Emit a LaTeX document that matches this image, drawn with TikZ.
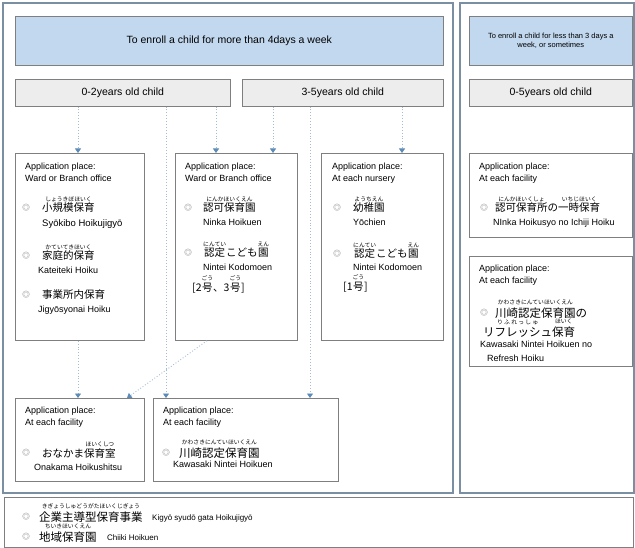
\documentclass[tikz,border=0pt]{standalone}
\usepackage{fontspec}
\setmainfont{Liberation Sans}
\newfontfamily\jp{Noto Sans CJK JP}
\usetikzlibrary{arrows.meta}
\definecolor{frameC}{HTML}{7B8FA2}
\definecolor{hdrC}{HTML}{C2D8EF}
\definecolor{ageC}{HTML}{EDEDED}
\definecolor{boxC}{HTML}{7F7F7F}
\definecolor{flowC}{HTML}{A3BCD4}
\definecolor{tipC}{HTML}{5B8BB6}
% furigana over a word
\newcommand{\furi}[2]{\begin{tabular}[b]{@{}c@{}}{\fontsize{5.8}{6}\selectfont #2}\\[-1.5pt]#1\end{tabular}}
\tikzset{
  frame/.style={draw=frameC,line width=1.6pt},
  hdr/.style={draw=boxC,fill=hdrC,line width=.6pt,anchor=north west,inner sep=0pt,
    align=center,font=\fontsize{10.5}{12}\selectfont},
  agebox/.style={draw=boxC,fill=ageC,line width=.6pt,anchor=north west,inner sep=0pt,
    minimum height=27pt,font=\fontsize{10.5}{12}\selectfont},
  placebox/.style={draw=boxC,fill=white,line width=.7pt,anchor=north west,inner sep=0pt},
  flow/.style={draw=flowC,dotted,line width=.9pt,
    -{Triangle[length=4.5pt,width=6pt,color=tipC]}},
  lbl/.style={anchor=base west,inner sep=0pt,font=\fontsize{9}{11}\selectfont},
  jpa/.style={anchor=base west,inner sep=0pt,font=\jp\fontsize{10.5}{12}\selectfont},
  jpb/.style={anchor=base west,inner sep=0pt,font=\jp\fontsize{11.5}{13}\selectfont},
  dot/.style={inner sep=0pt,text=black!60,font=\jp\fontsize{7.5}{8}\selectfont},
}
\begin{document}
\begin{tikzpicture}[x=1pt,y=-1pt]
\useasboundingbox (0,0) rectangle (635,548);
% frames
\draw[frame] (3,3) rectangle (453,493);
\draw[frame] (460,3) rectangle (634,493);
\draw[draw=boxC,line width=.7pt] (4,497) rectangle (633,547);

% headers
\node[hdr,minimum width=428pt,minimum height=49pt] (hdrL) at (15,16)
  {To enroll a child for more than 4days a week};
\node[hdr,minimum width=163pt,minimum height=49pt,font=\fontsize{7.5}{9.5}\selectfont] (hdrR) at (469,16)
  {To enroll a child for less than 3 days a\\week, or sometimes};
\node[agebox,minimum width=215pt] (g02) at (15,79) {0-2years old child};
\node[agebox,minimum width=201pt] (g35) at (242,79) {3-5years old child};
\node[agebox,minimum width=163pt] (g05) at (469,79) {0-5years old child};

% application boxes
\node[placebox,minimum width=129pt,minimum height=187pt] (boxA) at (15,153) {};
\node[placebox,minimum width=122pt,minimum height=187pt] (boxB) at (175,153) {};
\node[placebox,minimum width=122pt,minimum height=187pt] (boxC) at (321,153) {};
\node[placebox,minimum width=163pt,minimum height=84pt] (boxR1) at (469,153) {};
\node[placebox,minimum width=163pt,minimum height=110pt] (boxR2) at (469,256) {};
\node[placebox,minimum width=129pt,minimum height=83pt] (boxD) at (15,398) {};
\node[placebox,minimum width=185pt,minimum height=83pt] (boxE) at (153,398) {};

% connectors
\draw[flow] (g02.south -| 78,0) -- (boxA.north -| 78,0);
\draw[flow] (g02.south -| 166,0) -- (boxE.north -| 166,0);
\draw[flow] (g02.south -| 216,0) -- (boxB.north -| 216,0);
\draw[flow] (g35.south -| 273,0) -- (boxB.north -| 273,0);
\draw[flow] (g35.south -| 310,0) -- (boxE.north -| 310,0);
\draw[flow] (g35.south -| 402,0) -- (boxC.north -| 402,0);
\draw[flow] (boxA.south -| 78,0) -- (boxD.north -| 78,0);
\draw[flow] (boxB.south -| 207,0) -- (boxD.north -| 127,0);

% box A
\node[lbl] (apA) at (25,169.5) {Application place:};
\node[lbl] (wbA) at (25,181.5) {Ward or Branch office};
\node[dot] (bA1) at (26,208) {◎};
\node[jpa] (kA1) at (42,212) {\furi{小規模保育}{しょうきぼほいく}};
\node[lbl,font=\fontsize{9.5}{11}\selectfont] (rA1) at (42,226.5) {Syōkibo Hoikujigyō};
\node[dot] (bA2) at (26,256) {◎};
\node[jpa] (kA2) at (42,260) {\furi{家庭的保育}{かていてきほいく}};
\node[lbl] (rA2) at (38,273.5) {Kateiteki Hoiku};
\node[dot] (bA3) at (26,295) {◎};
\node[jpa] (kA3) at (42,299) {事業所内保育};
\node[lbl] (rA3) at (38,312.5) {Jigyōsyonai Hoiku};

% box B
\node[lbl] (apB) at (185,169.5) {Application place:};
\node[lbl] (wbB) at (185,181.5) {Ward or Branch office};
\node[dot] (bB1) at (188,208) {◎};
\node[jpa] (kB1) at (203,212) {\furi{認可保育園}{にんかほいくえん}};
\node[lbl] (rB1) at (203,225.5) {Ninka Hoikuen};
\node[dot] (bB2) at (188,253) {◎};
\node[jpa] (kB2) at (203,257) {\furi{認定}{にんてい}こども\furi{園}{えん}};
\node[lbl] (rB2) at (203,270.5) {Nintei Kodomoen};
\node[jpa] (nB2) at (192,291) {[2\furi{号}{ごう}、3\furi{号}{ごう}]};

% box C
\node[lbl] (apC) at (332,169.5) {Application place:};
\node[lbl] (wbC) at (332,181.5) {At each nursery};
\node[dot] (bC1) at (337,208) {◎};
\node[jpa] (kC1) at (353,212) {\furi{幼稚園}{ようちえん}};
\node[lbl] (rC1) at (353,225.5) {Yōchien};
\node[dot] (bC2) at (337,254) {◎};
\node[jpa] (kC2) at (353,258) {\furi{認定}{にんてい}こども\furi{園}{えん}};
\node[lbl] (rC2) at (353,270.5) {Nintei Kodomoen};
\node[jpa] (nC2) at (343,290.5) {[1\furi{号}{ごう}]};

% right boxes
\node[lbl] (apR1) at (479,169.5) {Application place:};
\node[lbl] (wbR1) at (479,181.5) {At each facility};
\node[dot] (bR1) at (484,208) {◎};
\node[jpa] (kR1) at (495,212) {\furi{認可保育所}{にんかほいくしょ}の\furi{一時保育}{いちじほいく}};
\node[lbl] (rR1) at (493,225.5) {NInka Hoikusyo no Ichiji Hoiku};
\node[lbl] (apR2) at (479,272) {Application place:};
\node[lbl] (wbR2) at (479,284) {At each facility};
\node[dot] (bR2) at (484,313) {◎};
\node[jpb] (kR2) at (495,317) {\furi{川崎認定保育園}{かわさきにんていほいくえん}の};
\node[jpb] (kR2b) at (483,336) {\furi{リフレッシュ}{り ふ れ っ し ゅ}\furi{保育}{ほいく}};
\node[lbl] (rR2) at (480,347.5) {Kawasaki Nintei Hoikuen no};
\node[lbl] (rR2b) at (487,361.5) {Refresh Hoiku};

% box D
\node[lbl] (apD) at (25,413.5) {Application place:};
\node[lbl] (wbD) at (25,425.5) {At each facility};
\node[dot] (bD1) at (26,453) {◎};
\node[jpa] (kD1) at (42,457) {おなかま\furi{保育室}{ほいくしつ}};
\node[lbl] (rD1) at (34,470.5) {Onakama Hoikushitsu};

% box E
\node[lbl] (apE) at (163,413.5) {Application place:};
\node[lbl] (wbE) at (163,425.5) {At each facility};
\node[dot] (bE1) at (166,453) {◎};
\node[jpb] (kE1) at (179,457) {\furi{川崎認定保育園}{かわさきにんていほいくえん}};
\node[lbl] (rE1) at (173,467.5) {Kawasaki Nintei Hoikuen};

% bottom list
\node[dot] (bF1) at (26,517) {◎};
\node[jpb] (kF1) at (39,521) {\furi{企業主導型保育事業}{きぎょうしゅどうがたほいくじぎょう}};
\node[lbl,font=\fontsize{8}{10}\selectfont] (rF1) at (152,520) {Kigyō syudō gata Hoikujigyō};
\node[dot] (bF2) at (26,537) {◎};
\node[jpb] (kF2) at (39,541) {\furi{地域保育園}{ちいきほいくえん}};
\node[lbl,font=\fontsize{8}{10}\selectfont] (rF2) at (107,540) {Chiiki Hoikuen};
\end{tikzpicture}
\end{document}
